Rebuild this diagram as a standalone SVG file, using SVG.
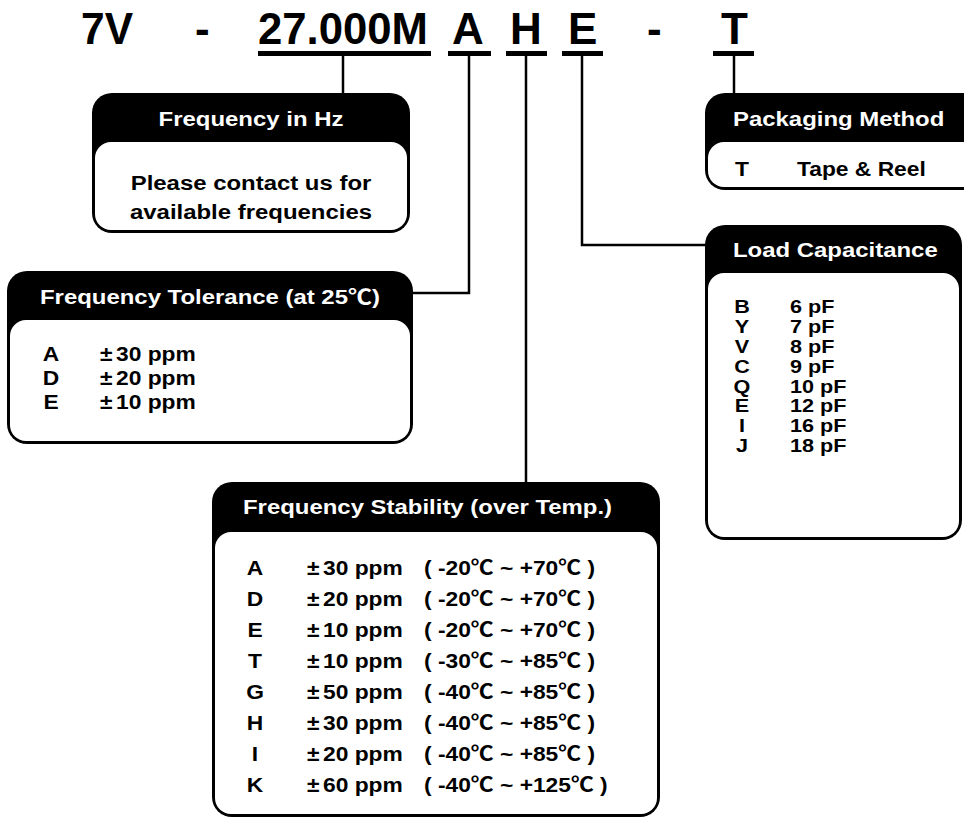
<svg xmlns="http://www.w3.org/2000/svg" width="964" height="818" viewBox="0 0 964 818">
<style>
text{font-family:"Liberation Sans",Arial,"Noto Sans CJK SC",sans-serif;font-weight:bold;fill:#000}
.title{font-size:44px}
.hd{font-size:21px;fill:#fff}
.bd{font-size:21px}
.st{font-size:20px}
.sm{font-size:18px}
.mid{text-anchor:middle}
.outer{fill:#000}
.inner{fill:#fff}
.ul{fill:#000}
.conn{fill:none;stroke:#000;stroke-width:2.5}
</style>
<rect width="964" height="818" fill="#fff"/>
<g id="title">
<text class="title" x="81" y="44" textLength="52" lengthAdjust="spacingAndGlyphs">7V</text>
<text class="title" x="195" y="44">-</text>
<text class="title" x="258" y="44" textLength="170" lengthAdjust="spacingAndGlyphs">27.000M</text>
<text class="title" x="452" y="44">A</text>
<text class="title" x="510" y="44">H</text>
<text class="title" x="568" y="44">E</text>
<text class="title" x="647" y="44">-</text>
<text class="title" x="721" y="44">T</text>
<rect class="ul" x="258" y="51" width="173" height="5"/>
<rect class="ul" x="448" y="51" width="43" height="5"/>
<rect class="ul" x="506" y="51" width="41" height="5"/>
<rect class="ul" x="562" y="51" width="41" height="5"/>
<rect class="ul" x="713" y="51" width="41" height="5"/>
</g>
<g id="connectors">
<path class="conn" d="M343 56V93"/>
<path class="conn" d="M469 56V293H413"/>
<path class="conn" d="M526 56V482"/>
<path class="conn" d="M582 56V245H705"/>
<path class="conn" d="M734 56V93"/>
</g>
<g id="freq-hz">
<rect class="outer" x="92" y="93" width="318" height="140" rx="20"/>
<rect class="inner" x="95" y="142" width="312" height="88" rx="16"/>
<text class="hd mid" transform="translate(251 126) scale(1.14 1)">Frequency in Hz</text>
<text class="bd mid" transform="translate(251 190) scale(1.14 1)">Please contact us for</text>
<text class="bd mid" transform="translate(251 219) scale(1.14 1)">available frequencies</text>
</g>
<g id="tolerance">
<rect class="outer" x="7" y="271" width="406" height="173" rx="20"/>
<rect class="inner" x="10" y="320" width="400" height="121" rx="16"/>
<text class="hd" transform="translate(40 304) scale(1.14 1)">Frequency Tolerance (at 25℃)</text>
<text class="st mid" transform="translate(51 361) scale(1.14 1)">A</text>
<text class="st" transform="translate(100 361) scale(1.14 1)">±</text>
<text class="st" transform="translate(116 361) scale(1.14 1)">30 ppm</text>
<text class="st mid" transform="translate(51 385) scale(1.14 1)">D</text>
<text class="st" transform="translate(100 385) scale(1.14 1)">±</text>
<text class="st" transform="translate(116 385) scale(1.14 1)">20 ppm</text>
<text class="st mid" transform="translate(51 409) scale(1.14 1)">E</text>
<text class="st" transform="translate(100 409) scale(1.14 1)">±</text>
<text class="st" transform="translate(116 409) scale(1.14 1)">10 ppm</text>
</g>
<g id="stability">
<rect class="outer" x="212" y="482" width="448" height="335" rx="20"/>
<rect class="inner" x="215" y="532" width="442" height="282" rx="16"/>
<text class="hd" transform="translate(243 514) scale(1.14 1)">Frequency Stability (over Temp.)</text>
<g transform="translate(0 575)">
<text class="st mid" transform="translate(255 0) scale(1.14 1)">A</text><text class="st" transform="translate(307 0) scale(1.14 1)">±</text><text class="st" transform="translate(323 0) scale(1.14 1)">30 ppm</text><text class="st" transform="translate(424 0) scale(1.14 1)">( -20℃ ~ +70℃ )</text>
</g>
<g transform="translate(0 606)">
<text class="st mid" transform="translate(255 0) scale(1.14 1)">D</text><text class="st" transform="translate(307 0) scale(1.14 1)">±</text><text class="st" transform="translate(323 0) scale(1.14 1)">20 ppm</text><text class="st" transform="translate(424 0) scale(1.14 1)">( -20℃ ~ +70℃ )</text>
</g>
<g transform="translate(0 637)">
<text class="st mid" transform="translate(255 0) scale(1.14 1)">E</text><text class="st" transform="translate(307 0) scale(1.14 1)">±</text><text class="st" transform="translate(323 0) scale(1.14 1)">10 ppm</text><text class="st" transform="translate(424 0) scale(1.14 1)">( -20℃ ~ +70℃ )</text>
</g>
<g transform="translate(0 668)">
<text class="st mid" transform="translate(255 0) scale(1.14 1)">T</text><text class="st" transform="translate(307 0) scale(1.14 1)">±</text><text class="st" transform="translate(323 0) scale(1.14 1)">10 ppm</text><text class="st" transform="translate(424 0) scale(1.14 1)">( -30℃ ~ +85℃ )</text>
</g>
<g transform="translate(0 699)">
<text class="st mid" transform="translate(255 0) scale(1.14 1)">G</text><text class="st" transform="translate(307 0) scale(1.14 1)">±</text><text class="st" transform="translate(323 0) scale(1.14 1)">50 ppm</text><text class="st" transform="translate(424 0) scale(1.14 1)">( -40℃ ~ +85℃ )</text>
</g>
<g transform="translate(0 730)">
<text class="st mid" transform="translate(255 0) scale(1.14 1)">H</text><text class="st" transform="translate(307 0) scale(1.14 1)">±</text><text class="st" transform="translate(323 0) scale(1.14 1)">30 ppm</text><text class="st" transform="translate(424 0) scale(1.14 1)">( -40℃ ~ +85℃ )</text>
</g>
<g transform="translate(0 761)">
<text class="st mid" transform="translate(255 0) scale(1.14 1)">I</text><text class="st" transform="translate(307 0) scale(1.14 1)">±</text><text class="st" transform="translate(323 0) scale(1.14 1)">20 ppm</text><text class="st" transform="translate(424 0) scale(1.14 1)">( -40℃ ~ +85℃ )</text>
</g>
<g transform="translate(0 792)">
<text class="st mid" transform="translate(255 0) scale(1.14 1)">K</text><text class="st" transform="translate(307 0) scale(1.14 1)">±</text><text class="st" transform="translate(323 0) scale(1.14 1)">60 ppm</text><text class="st" transform="translate(424 0) scale(1.14 1)">( -40℃ ~ +125℃ )</text>
</g>
</g>
<g id="packaging">
<rect class="outer" x="705" y="93" width="280" height="97" rx="20"/>
<rect class="inner" x="708" y="142" width="274" height="45" rx="16"/>
<text class="hd" transform="translate(733 126) scale(1.14 1)">Packaging Method</text>
<text class="st mid" transform="translate(742 176) scale(1.14 1)">T</text>
<text class="st" transform="translate(797 176) scale(1.14 1)">Tape &amp; Reel</text>
</g>
<g id="load">
<rect class="outer" x="705" y="225" width="257" height="315" rx="20"/>
<rect class="inner" x="708" y="273" width="251" height="264" rx="16"/>
<text class="hd" transform="translate(733 257) scale(1.14 1)">Load Capacitance</text>
<text class="sm mid" transform="translate(742 313) scale(1.2 1)">B</text><text class="sm" transform="translate(790 313) scale(1.2 1)">6 pF</text>
<text class="sm mid" transform="translate(742 333) scale(1.2 1)">Y</text><text class="sm" transform="translate(790 333) scale(1.2 1)">7 pF</text>
<text class="sm mid" transform="translate(742 353) scale(1.2 1)">V</text><text class="sm" transform="translate(790 353) scale(1.2 1)">8 pF</text>
<text class="sm mid" transform="translate(742 373) scale(1.2 1)">C</text><text class="sm" transform="translate(790 373) scale(1.2 1)">9 pF</text>
<text class="sm mid" transform="translate(742 393) scale(1.2 1)">Q</text><text class="sm" transform="translate(790 393) scale(1.2 1)">10 pF</text>
<text class="sm mid" transform="translate(742 412) scale(1.2 1)">E</text><text class="sm" transform="translate(790 412) scale(1.2 1)">12 pF</text>
<text class="sm mid" transform="translate(742 432) scale(1.2 1)">I</text><text class="sm" transform="translate(790 432) scale(1.2 1)">16 pF</text>
<text class="sm mid" transform="translate(742 452) scale(1.2 1)">J</text><text class="sm" transform="translate(790 452) scale(1.2 1)">18 pF</text>
</g>
</svg>
